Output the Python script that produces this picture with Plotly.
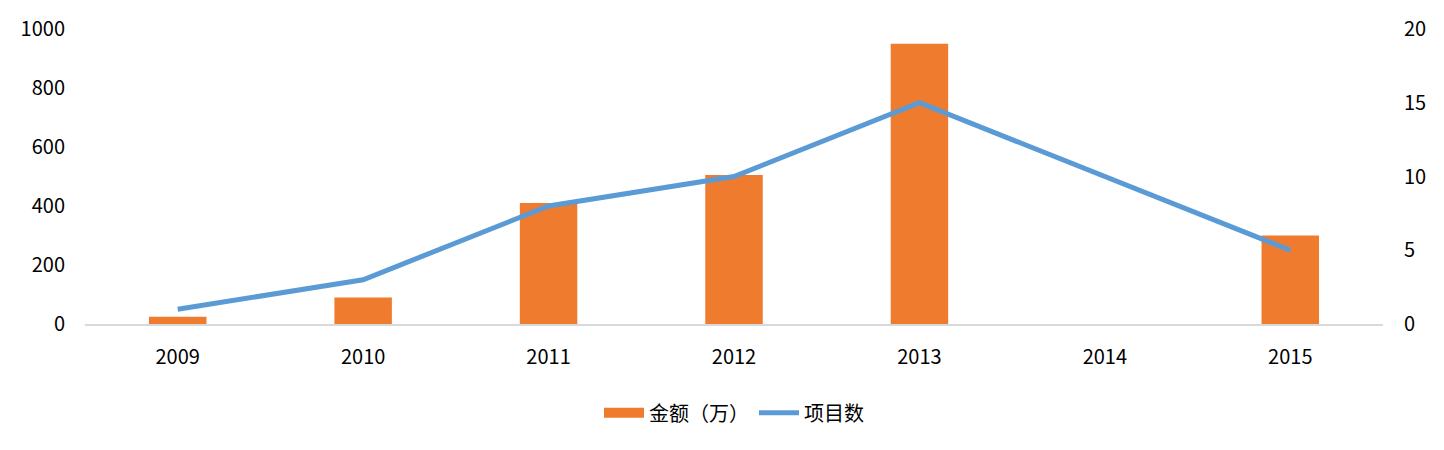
import plotly.graph_objects as go

years = ["2009", "2010", "2011", "2012", "2013", "2014", "2015"]
amount = [25, 90, 410, 505, 950, 0, 300]
projects = [1, 3, 8, 10, 15, 10, 5]
left_ticks = [0, 200, 400, 600, 800, 1000]
right_ticks = [0, 5, 10, 15, 20]

font_family = "Noto Sans CJK SC, Noto Sans, sans-serif"
bar_color = "#EF7B2F"
line_color = "#5B9BD5"

fig = go.Figure()
fig.add_trace(go.Bar(
    x=years, y=amount, name="金额（万）",
    marker=dict(color=bar_color, line=dict(width=0)),
    width=0.31, yaxis="y", showlegend=False, legendgroup="amt",
))
# legend sample for the bars (wide rectangle like the original)
fig.add_trace(go.Scatter(
    x=[None], y=[None], name="金额（万）", mode="lines",
    line=dict(color=bar_color, width=10), legendgroup="amt",
))
fig.add_trace(go.Scatter(
    x=years, y=projects, name="项目数", mode="lines",
    line=dict(color=line_color, width=5), yaxis="y2",
))

fig.update_layout(
    width=1436, height=442,
    margin=dict(l=77, r=61, t=21, b=126, autoexpand=False),
    paper_bgcolor="white", plot_bgcolor="white",
    font=dict(family=font_family, size=20, color="#000000"),
    showlegend=True,
    legend=dict(orientation="h", x=0.5, xanchor="center", y=-0.235, yanchor="top",
                font=dict(size=20), traceorder="normal", itemwidth=40),
    xaxis=dict(showgrid=False, showline=True, linecolor="#D9D9D9", linewidth=2,
               ticks="", tickfont=dict(size=20), ticklabelstandoff=14, automargin=False),
    yaxis=dict(range=[0, 1000], tickvals=left_ticks, showgrid=False, zeroline=False,
               showline=False, ticks="", ticklabelstandoff=19, tickfont=dict(size=20),
               automargin=False),
    yaxis2=dict(range=[0, 20], tickvals=right_ticks, overlaying="y", side="right",
                showgrid=False, zeroline=False, showline=False, ticks="",
                ticklabelstandoff=20, tickfont=dict(size=20), automargin=False),
)

fig.write_html("out.html")
